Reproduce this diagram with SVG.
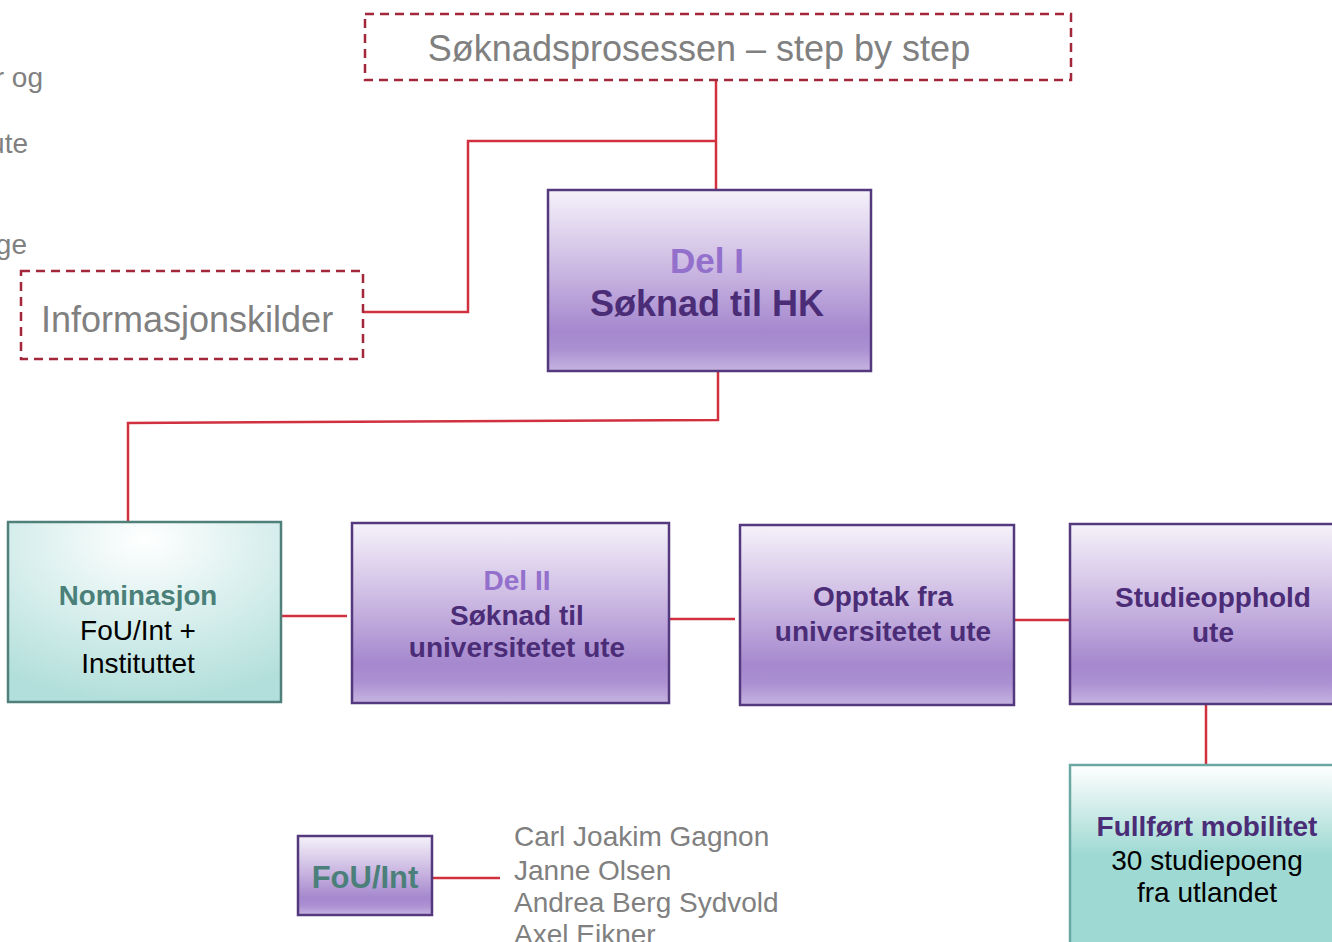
<svg xmlns="http://www.w3.org/2000/svg" width="1332" height="942" viewBox="0 0 1332 942">
<style>
text{font-family:"Liberation Sans",Arial,sans-serif}
.dash{fill:none;stroke:#a3273a;stroke-width:2.5;stroke-dasharray:9,6}
.pbox{fill:url(#purp);stroke:#55397e;stroke-width:2.5}
.tbox{fill:url(#teal);stroke:#4f8079;stroke-width:2.5}
.tbox2{fill:url(#teal2);stroke:#6aa9a3;stroke-width:2.5}
.conn{fill:none;stroke:#d1303f;stroke-width:2.5}
.gray{fill:#808080}
.lp{fill:#9370cc;font-weight:bold}
.dp{fill:#4b2d77;font-weight:bold}
.tl{fill:#4a8079;font-weight:bold}
.blk{fill:#000}
</style>
<defs>
<linearGradient id="purp" x1="0" y1="0" x2="0" y2="1">
<stop offset="0" stop-color="#f5f2fa"/>
<stop offset="0.4" stop-color="#cfbde4"/>
<stop offset="0.78" stop-color="#a588ce"/>
<stop offset="0.88" stop-color="#ab90d2"/>
<stop offset="1" stop-color="#c6b4e0"/>
</linearGradient>
<radialGradient id="teal" cx="0.5" cy="0.1" r="0.9">
<stop offset="0" stop-color="#ffffff"/>
<stop offset="1" stop-color="#b2dfdb"/>
</radialGradient>
<linearGradient id="teal2" x1="0" y1="0" x2="0" y2="1">
<stop offset="0" stop-color="#ffffff"/>
<stop offset="0.45" stop-color="#9fd9d3"/>
<stop offset="1" stop-color="#9fd9d3"/>
</linearGradient>
</defs>

<g id="leftcut" font-size="28">
<text class="gray" x="43" y="87" text-anchor="end">r og</text>
<text class="gray" x="28" y="153" text-anchor="end">ute</text>
<text class="gray" x="27" y="254" text-anchor="end">ge</text>
</g>

<g id="connectors">
<polyline class="conn" points="716,80 716,190"/>
<polyline class="conn" points="716,141 468,141 468,312 363,312"/>
<polyline class="conn" points="718,371 718,420 128,423 128,522"/>
<line class="conn" x1="281" y1="616" x2="347" y2="616"/>
<line class="conn" x1="669" y1="619" x2="735" y2="619"/>
<line class="conn" x1="1014" y1="620" x2="1070" y2="620"/>
<line class="conn" x1="1206" y1="704" x2="1206" y2="765"/>
<line class="conn" x1="432" y1="878" x2="500" y2="878"/>
</g>

<g id="title">
<rect class="dash" x="365" y="14" width="706" height="66"/>
<text class="gray" x="699" y="61" font-size="36" text-anchor="middle">Søknadsprosessen – step by step</text>
</g>

<g id="info">
<rect class="dash" x="21" y="271" width="342" height="88"/>
<text class="gray" x="41" y="332" font-size="36">Informasjonskilder</text>
</g>

<g id="del1">
<rect class="pbox" x="548" y="190" width="323" height="181"/>
<text class="lp" x="707" y="273" font-size="35" text-anchor="middle">Del I</text>
<text class="dp" x="707" y="316" font-size="36" text-anchor="middle">Søknad til HK</text>
</g>

<g id="nominasjon">
<rect class="tbox" x="8" y="522" width="273" height="180"/>
<text class="tl" x="138" y="605" font-size="27.7" text-anchor="middle">Nominasjon</text>
<text class="blk" x="138" y="640" font-size="28" text-anchor="middle">FoU/Int +</text>
<text class="blk" x="138" y="673" font-size="28" text-anchor="middle">Instituttet</text>
</g>

<g id="del2">
<rect class="pbox" x="352" y="523" width="317" height="180"/>
<text class="lp" x="517" y="590" font-size="28" text-anchor="middle">Del II</text>
<text class="dp" x="517" y="625" font-size="28" text-anchor="middle">Søknad til</text>
<text class="dp" x="517" y="657" font-size="28" text-anchor="middle">universitetet ute</text>
</g>

<g id="opptak">
<rect class="pbox" x="740" y="525" width="274" height="180"/>
<text class="dp" x="883" y="606" font-size="28" text-anchor="middle">Opptak fra</text>
<text class="dp" x="883" y="641" font-size="28" text-anchor="middle">universitetet ute</text>
</g>

<g id="studieopphold">
<rect class="pbox" x="1070" y="524" width="280" height="180"/>
<text class="dp" x="1213" y="607" font-size="28" text-anchor="middle">Studieopphold</text>
<text class="dp" x="1213" y="642" font-size="28" text-anchor="middle">ute</text>
</g>

<g id="fullfort">
<rect class="tbox2" x="1070" y="765" width="280" height="200"/>
<text class="dp" x="1207" y="836" font-size="28" text-anchor="middle">Fullført mobilitet</text>
<text class="blk" x="1207" y="870" font-size="28" text-anchor="middle">30 studiepoeng</text>
<text class="blk" x="1207" y="902" font-size="28" text-anchor="middle">fra utlandet</text>
</g>

<g id="fouint">
<rect class="pbox" x="298" y="836" width="134" height="79"/>
<text class="tl" x="365" y="888" font-size="31" text-anchor="middle">FoU/Int</text>
</g>

<g id="names" font-size="28">
<text class="gray" x="514" y="846">Carl Joakim Gagnon</text>
<text class="gray" x="514" y="880">Janne Olsen</text>
<text class="gray" x="514" y="912">Andrea Berg Sydvold</text>
<text class="gray" x="514" y="944">Axel Eikner</text>
</g>
</svg>
